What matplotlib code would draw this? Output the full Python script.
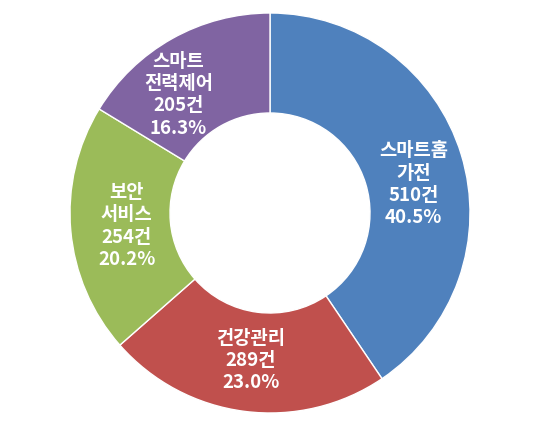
import numpy as np
import matplotlib
matplotlib.use('Agg')
import matplotlib.pyplot as plt

plt.rcParams['font.family'] = ['Noto Sans CJK KR', 'DejaVu Sans']

# 데이터
categories = ['스마트홈\n가전', '건강관리', '보안\n서비스', '스마트\n전력제어']
counts = [510, 289, 254, 205]
colors = ['#4F81BD', '#C0504D', '#9BBB59', '#8064A2']
# 라벨 위치 보정 (points)
label_offsets = [(0, -11), (0, 1), (4.5, 0), (-13, -9)]

fig = plt.figure(figsize=(5.4, 4.26), dpi=100)
ax = fig.add_axes([0, 0, 1, 1])

wedges, _ = ax.pie(counts, colors=colors, startangle=90, counterclock=False,
                   radius=1.0, wedgeprops=dict(width=0.5, edgecolor='white', linewidth=1))

# 원 위치/크기 맞추기 (pie가 축 범위를 바꾸므로 나중에)
R = 200.0
cx, cy = 270.0, 213.0
ax.set_xlim(-cx / R, (540 - cx) / R)
ax.set_ylim(-(426 - cy) / R, cy / R)
ax.set_aspect('equal')
ax.axis('off')

total = sum(counts)
for w, cat, n, off in zip(wedges, categories, counts, label_offsets):
    ang = np.deg2rad((w.theta1 + w.theta2) / 2)
    x, y = 0.75 * np.cos(ang), 0.75 * np.sin(ang)
    txt = f'{cat}\n{n}건\n{n / total * 100:.1f}%'
    ax.annotate(txt, (x, y), xytext=off, textcoords='offset points',
                ha='center', va='center', color='white', fontsize=13.5,
                fontweight='bold', linespacing=1.22)

fig.savefig('out.png', dpi=100)
